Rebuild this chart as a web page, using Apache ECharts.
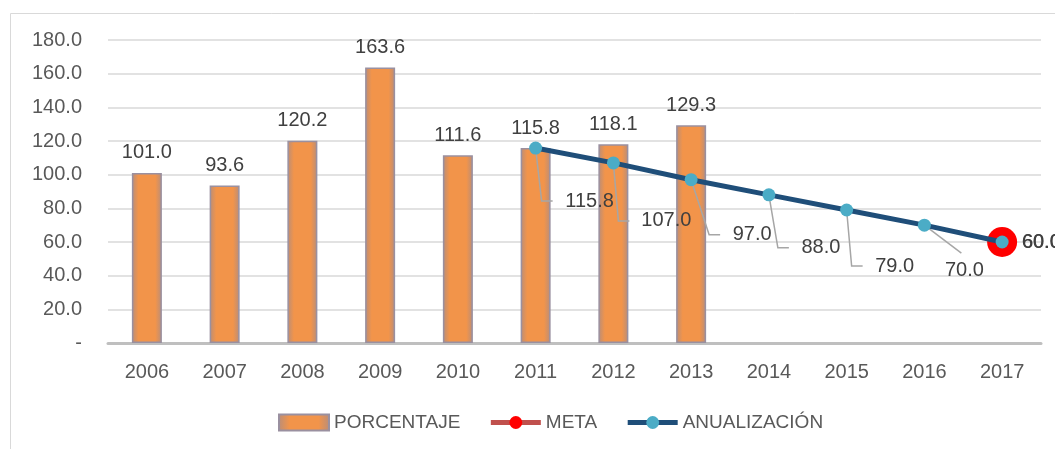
<!DOCTYPE html>
<html>
<head>
	<meta charset="utf-8">
	<title>Porcentaje y anualización</title>
	<script src="https://cdn.jsdelivr.net/npm/echarts@6/dist/echarts.min.js"></script>
	<style>
		body { margin:0; background:#fff; }
		#chart { width:1055px; height:449px; }
	</style>
</head>
<body>
<div id="chart"></div>
<script type="text/javascript">
	var years = ['2006','2007','2008','2009','2010','2011','2012','2013','2014','2015','2016','2017'];
	var porcentaje = [101.0, 93.6, 120.2, 163.6, 111.6, 115.8, 118.1, 129.3, null, null, null, null];
	var meta = [null, null, null, null, null, null, null, null, null, null, null, 60.0];
	var anualizacion = [null, null, null, null, null, 115.8, 107.0, 97.0, 88.0, 79.0, 70.0, 60.0];

	// desplazamiento de cada etiqueta de la anualizacion (px, respecto al punto)
	var desplaz = {
		5: [54, 53], 6: [53, 58], 7: [61, 55], 8: [52, 53], 9: [48, 56], 10: [40, 45]
	};

	var font = 'Liberation Sans';
	var lastIdx = years.length - 1;

	// el ultimo punto de la anualizacion lleva la etiqueta a la derecha, como la meta
	var anualData = anualizacion.map(function (v, i) {
		if (i === lastIdx) {
			return { value: v, label: { position: 'right', distance: 13 } };
		}
		return v;
	});

	// puntos para las lineas guia de las etiquetas (todos menos el ultimo)
	var guiaData = [];
	anualizacion.forEach(function (v, i) {
		if (v != null && i !== lastIdx) guiaData.push([i, v]);
	});

	function fmt(p) {
		var v = Array.isArray(p.value) ? p.value[1] : p.value;
		return v.toFixed(1);
	}

	var barColor = {
		type: 'linear', x: 0, y: 0, x2: 1, y2: 0,
		colorStops: [
			{ offset: 0, color: '#b88d7a' },
			{ offset: 0.22, color: '#f2944a' },
			{ offset: 0.78, color: '#f2944a' },
			{ offset: 1, color: '#b88d7a' }
		]
	};

	var myChart = echarts.init(document.getElementById('chart'));
	myChart.setOption({
		animation: false,
		textStyle: { fontFamily: font },
		graphic: [{
			type: 'rect',
			shape: { x: 10.5, y: 13.5, width: 1100, height: 500 },
			style: { fill: 'none', stroke: '#d9d9d9', lineWidth: 1 },
			silent: true
		}],
		grid: { left: 108, right: 14, top: 40, bottom: 106 },
		legend: {
			bottom: 12,
			left: 273,
			itemGap: 28,
			itemWidth: 50,
			itemHeight: 16,
			textStyle: { fontFamily: font, fontSize: 19, color: '#595959' },
			data: [
				{ name: 'PORCENTAJE', icon: 'rect' },
				{ name: 'META', lineStyle: { width: 5 } },
				{ name: 'ANUALIZACIÓN', lineStyle: { width: 5 } }
			]
		},
		xAxis: {
			type: 'category',
			data: years,
			axisLine: { lineStyle: { color: '#bfbfbf', width: 3 } },
			axisTick: { show: false },
			axisLabel: { fontFamily: font, fontSize: 20, color: '#595959', margin: 19 }
		},
		yAxis: {
			type: 'value',
			min: 0,
			max: 180,
			interval: 20,
			axisLine: { show: false },
			axisTick: { show: false },
			splitLine: { lineStyle: { color: '#d9d9d9', width: 1.5 } },
			axisLabel: {
				fontFamily: font, fontSize: 20, color: '#595959', margin: 26,
				formatter: function (v) { return v === 0 ? '-' : v.toFixed(1); }
			}
		},
		series: [{
			name: 'PORCENTAJE',
			type: 'bar',
			data: porcentaje,
			barWidth: 30,
			z: 2,
			itemStyle: { color: barColor, borderColor: '#9a90a0', borderWidth: 1.5 },
			label: {
				show: true, position: 'top', distance: 10,
				fontFamily: font, fontSize: 20, color: '#404040',
				formatter: fmt
			}
		}, {
			type: 'custom',
			name: 'guias',
			data: guiaData,
			z: 3,
			silent: true,
			renderItem: function (params, api) {
				var i = api.value(0);
				var v = api.value(1);
				var p = api.coord([i, v]);
				var d = desplaz[i];
				var pts;
				if (i === lastIdx - 1) {
					pts = [[p[0], p[1]], [p[0] + 37, p[1] + 28]];
				} else {
					var half = v.toFixed(1).length * 5;
					var left = p[0] + d[0] - half;
					pts = [[p[0], p[1]], [left - 23, p[1] + d[1]], [left - 12, p[1] + d[1]]];
				}
				return {
					type: 'polyline',
					shape: { points: pts },
					style: { stroke: '#a6a6a6', lineWidth: 1.5, fill: null }
				};
			}
		}, {
			name: 'META',
			type: 'line',
			data: meta,
			symbol: 'circle',
			symbolSize: 30,
			z: 4,
			lineStyle: { color: '#c0504d', width: 5 },
			itemStyle: { color: '#ff0000' },
			label: {
				show: true, position: 'right', distance: 5,
				fontFamily: font, fontSize: 20, color: '#404040',
				formatter: fmt
			}
		}, {
			name: 'ANUALIZACIÓN',
			type: 'line',
			data: anualData,
			symbol: 'circle',
			symbolSize: 13,
			z: 5,
			lineStyle: { color: '#1f4e79', width: 5 },
			itemStyle: { color: '#4bacc6' },
			label: {
				show: true, position: 'inside',
				fontFamily: font, fontSize: 20, color: '#404040',
				formatter: fmt
			},
			labelLayout: function (p) {
				var d = desplaz[p.dataIndex];
				if (!d) return {};
				return { dx: d[0], dy: d[1] };
			}
		}]
	});
</script>
</body>
</html>
